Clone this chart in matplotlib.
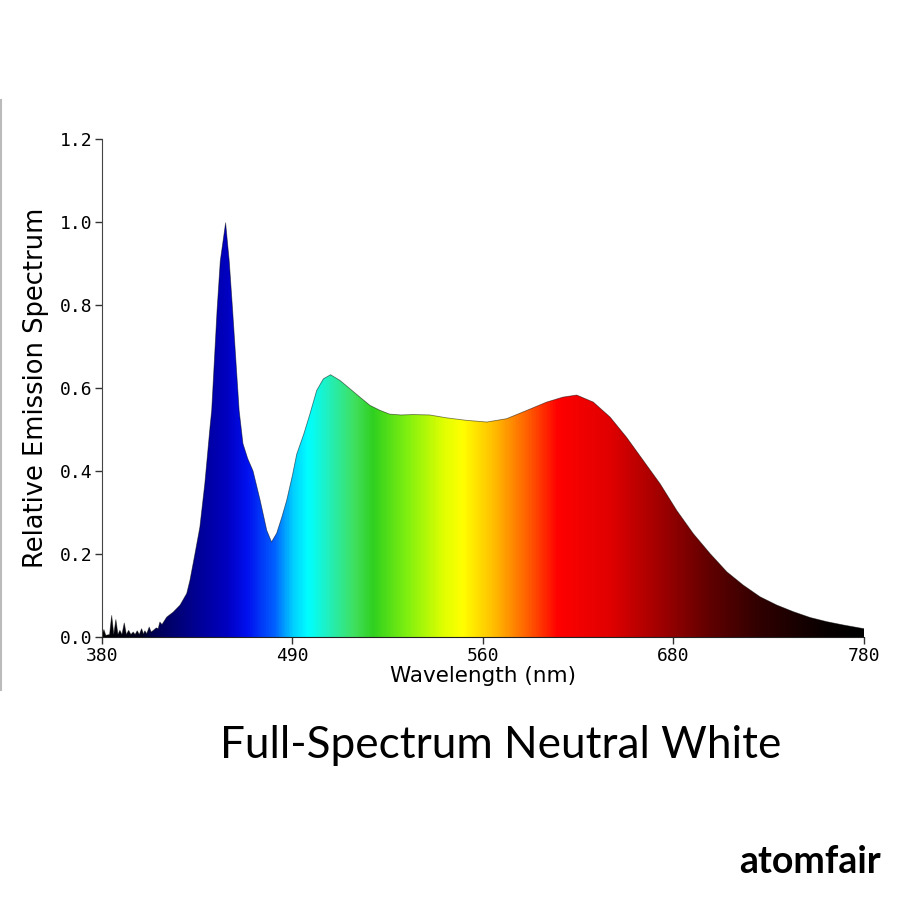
import numpy as np
import matplotlib
matplotlib.use("Agg")
import matplotlib.pyplot as plt
from matplotlib.colors import LinearSegmentedColormap
from matplotlib.patches import Polygon
from matplotlib.lines import Line2D

# spectrum (nm, relative intensity)
wavelength = [380, 381, 382, 384, 385.1, 386.2, 387.3, 388.4, 389.4, 390.5, 391.7, 392.8,
              394, 395.2, 396.4, 397.4, 398.5, 399.6, 400.8, 401.8, 402.5, 403.5, 404.8,
              405.8, 407, 408.5, 409.5, 410.4, 411.5, 414, 417.4, 421, 424.5, 426.2,
              428.8, 431.4, 434, 436.7, 437.6, 439, 440.4, 442.1, 444.9, 446.8, 448.6,
              450.3, 452, 454, 456.5, 459.3, 463, 466.5, 469, 471.7, 474.5, 477,
              480, 482.2, 486, 489.2, 492.7, 496.2, 500, 505, 510.2, 515.4, 520.7,
              526, 531, 537, 543.4, 552, 561, 571.4, 582, 592.4, 603, 613.4, 622,
              629.2, 637.9, 646.7, 655.4, 664.2, 673, 681.7, 690.4, 699.2, 708,
              716.6, 725.4, 734.2, 742.9, 751.7, 760.4, 769.1, 780]
intensity = [0.004, 0.018, 0.004, 0.006, 0.052, 0.006, 0.042, 0.006, 0.016, 0.006, 0.034,
             0.006, 0.016, 0.006, 0.012, 0.006, 0.015, 0.006, 0.02, 0.007, 0.015, 0.008,
             0.024, 0.012, 0.016, 0.022, 0.02, 0.036, 0.03, 0.048, 0.06, 0.077, 0.105,
             0.137, 0.20, 0.265, 0.37, 0.505, 0.546, 0.666, 0.786, 0.906, 0.998, 0.906,
             0.786, 0.666, 0.546, 0.466, 0.43, 0.40, 0.33, 0.257, 0.229, 0.25, 0.29,
             0.33, 0.39, 0.44, 0.49, 0.538, 0.594, 0.622, 0.632, 0.618, 0.598, 0.578,
             0.558, 0.546, 0.537, 0.535, 0.536, 0.535, 0.528, 0.522, 0.518, 0.526,
             0.546, 0.566, 0.578, 0.583, 0.566, 0.53, 0.481, 0.425, 0.369, 0.305,
             0.249, 0.201, 0.157, 0.125, 0.097, 0.077, 0.061, 0.047, 0.037, 0.029, 0.02]

# colour stops of the fill (nm, colour)
stop_nm = [380, 400, 406, 428, 445, 456, 470, 480, 488, 498, 512, 522, 540, 559, 569,
           585, 603, 619, 647, 673, 699, 725, 760, 780]
stop_colors = ["#000000", "#000020", "#000050", "#000090", "#0000c0", "#0010f0",
               "#0060ff", "#00d0ff", "#00ffff", "#20f0c0", "#40e060", "#30d020",
               "#80f010", "#e0ff00", "#ffff00", "#ffc000", "#ff6000", "#ff0000",
               "#e00000", "#a00000", "#600000", "#300000", "#080000", "#000000"]

tick_pos = [380, 480, 580, 680, 780]
tick_labels = ["380", "490", "560", "680", "780"]
y_ticks = [0.0, 0.2, 0.4, 0.6, 0.8, 1.0, 1.2]

fig = plt.figure(figsize=(9, 9), dpi=100)
ax = fig.add_axes([0.1133, 0.2922, 0.8467, 0.5534])

wl0, wl1 = stop_nm[0], stop_nm[-1]
cmap = LinearSegmentedColormap.from_list(
    "spec", [((n - wl0) / (wl1 - wl0), c) for n, c in zip(stop_nm, stop_colors)], N=512)
grad = np.linspace(0, 1, 800)[None, :]
im = ax.imshow(grad, cmap=cmap, extent=[380, 780, 0, 1.2], aspect="auto",
               origin="lower", interpolation="bilinear", zorder=1)

verts = [(wavelength[0], 0)] + list(zip(wavelength, intensity)) + [(wavelength[-1], 0)]
clip = Polygon(verts, closed=True, transform=ax.transData, facecolor="none",
               edgecolor="none")
ax.add_patch(clip)
im.set_clip_path(clip)
ax.plot(wavelength, intensity, color="black", lw=0.6, alpha=0.5, zorder=2)

ax.set_xlim(380, 780)
ax.set_ylim(0, 1.2)
ax.set_xticks(tick_pos)
ax.set_xticklabels(tick_labels)
ax.set_yticks(y_ticks)
ax.set_yticklabels([f"{v:.1f}" for v in y_ticks])
for lab in ax.get_xticklabels() + ax.get_yticklabels():
    lab.set_fontfamily("DejaVu Sans Mono")
    lab.set_fontsize(13)
ax.tick_params(direction="out", length=5, width=1, colors="#333333", labelcolor="black",
               pad=2)
ax.spines["top"].set_visible(False)
ax.spines["right"].set_visible(False)
ax.spines["left"].set_color("#444444")
ax.spines["bottom"].set_color("#222222")

ax.set_xlabel("Wavelength (nm)", fontsize=15.5, labelpad=1)
ax.set_ylabel("Relative Emission Spectrum", fontsize=18.5, labelpad=8)

fig.text(0.556, 0.172, "Full-Spectrum Neutral White", fontsize=31.8, family="Lato",
         ha="center", va="center")
fig.text(0.90, 0.042, "atomfair", fontsize=27, family="Lato", weight="bold",
         ha="center", va="center")

fig.add_artist(Line2D([0.001, 0.001], [0.233, 0.889], color="#bbbbbb", lw=1.5))

fig.savefig("out.png", dpi=100)
